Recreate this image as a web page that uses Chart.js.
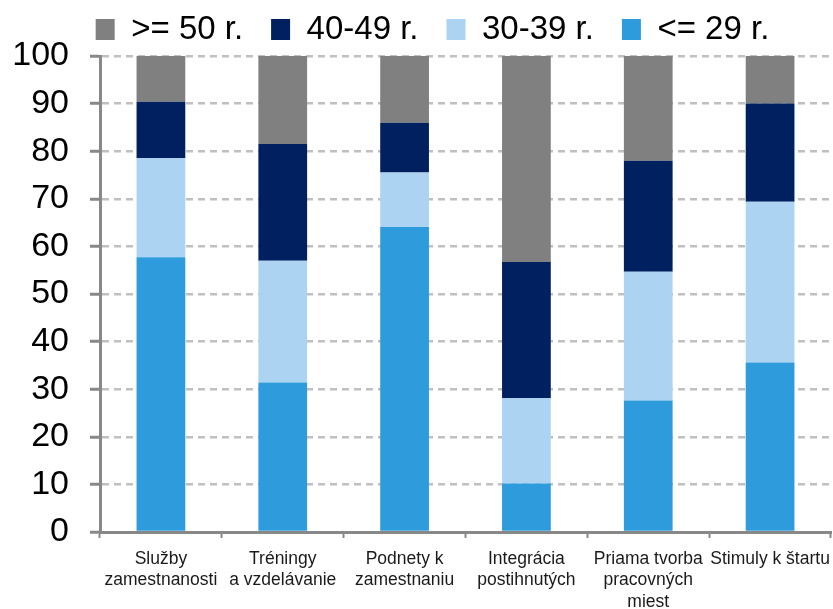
<!DOCTYPE html>
<html>
<head>
<meta charset="utf-8">
<script src="https://cdn.jsdelivr.net/npm/chart.js@4/dist/chart.umd.min.js"></script>
<style>
  html, body { margin: 0; padding: 0; background: #fff; }
  #wrap { width: 833px; height: 609px; }
</style>
</head>
<body>
<div id="wrap"><canvas id="chart"></canvas></div>
<script>
// categories (wrapped as in the source)
const categories = [
  ['Služby', 'zamestnanosti'],
  ['Tréningy', 'a vzdelávanie'],
  ['Podnety k', 'zamestnaniu'],
  ['Integrácia', 'postihnutých'],
  ['Priama tvorba', 'pracovných', 'miest'],
  ['Stimuly k štartu']
];

// shares by age group, %
const age29 = [57.7, 31.4, 64.1, 10.2, 27.6, 35.6];
const age30_39 = [20.8, 25.6, 11.4, 17.9, 27.1, 33.8];
const age40_49 = [11.9, 24.5, 10.5, 28.6, 23.3, 20.6];
const age50 = [9.6, 18.5, 14.0, 43.3, 22.0, 10.0];

const yTicks = [0, 10, 20, 30, 40, 50, 60, 70, 80, 90, 100];

// bottom of stack first, legend shows them reversed
const datasets = [
  { label: '<= 29 r.', data: age29, backgroundColor: '#2e9bdc' },
  { label: '30-39 r.', data: age30_39, backgroundColor: '#acd3f2' },
  { label: '40-49 r.', data: age40_49, backgroundColor: '#002060' },
  { label: '>= 50 r.', data: age50, backgroundColor: '#808080' }
];

const font = 'Liberation Sans, Arial, sans-serif';

// legend in the source sits a bit right of centre
const legendShift = {
  id: 'legendShift',
  afterLayout(chart) {
    chart.legend.left += 17;
    chart.legend.right += 17;
  }
};

new Chart(document.getElementById('chart'), {
  type: 'bar',
  data: {
    labels: categories,
    datasets: datasets.map(d => ({
      ...d,
      barPercentage: 0.4,
      categoryPercentage: 1,
      borderWidth: 0
    }))
  },
  plugins: [legendShift],
  options: {
    responsive: true,
    maintainAspectRatio: false,
    animation: false,
    // negative top so the wide legend spacing doesn't push the plot down
    layout: { padding: { top: -15, right: 2, left: 0, bottom: 0 } },
    scales: {
      x: {
        stacked: true,
        grid: {
          offset: true,
          drawOnChartArea: false,
          drawTicks: true,
          tickLength: 6,
          tickColor: '#888',
          tickWidth: 2
        },
        border: { color: '#888', width: 3 },
        ticks: {
          color: '#1a1a1a',
          padding: 10,
          maxRotation: 0,
          autoSkip: false,
          font: { family: font, size: 17.5, lineHeight: 1.24 }
        },
        afterFit: (scale) => {
          scale.height = 77;
          // let the last label run off the edge like in the source
          scale.paddingLeft = 0;
          scale.paddingRight = 0;
        }
      },
      y: {
        stacked: true,
        min: 0,
        max: 100,
        afterBuildTicks: (scale) => { scale.ticks = yTicks.map(v => ({ value: v })); },
        grid: {
          color: '#c0c0c0',
          lineWidth: 2.5,
          tickLength: 10,
          tickColor: '#888',
          tickWidth: 3,
          tickBorderDash: []
        },
        border: { color: '#888', width: 3, dash: [7, 5] },
        ticks: {
          color: '#000',
          padding: 21,
          font: { family: font, size: 34 }
        },
        afterFit: (scale) => { scale.width = 100; }
      }
    },
    plugins: {
      legend: {
        position: 'top',
        reverse: true,
        labels: {
          color: '#000',
          boxWidth: 19,
          boxHeight: 21,
          padding: 28,
          font: { family: font, size: 33 }
        }
      },
      tooltip: { enabled: false }
    }
  }
});
</script>
</body>
</html>
